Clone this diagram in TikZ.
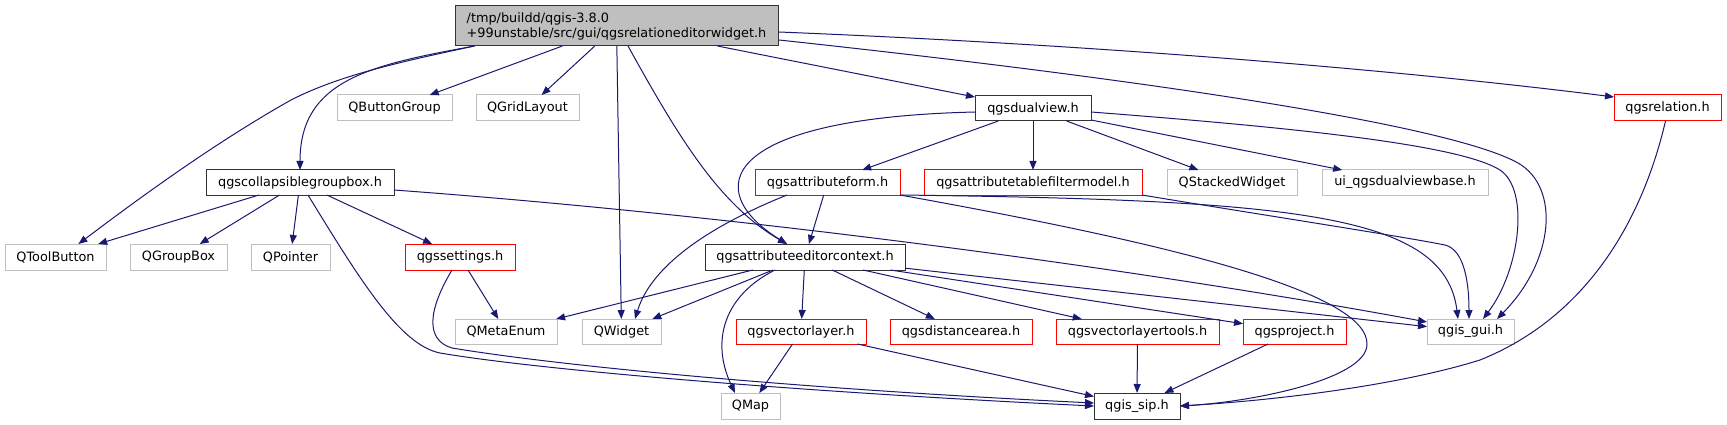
\documentclass[tikz,border=0pt]{standalone}
\usepackage{fontspec}
\setmainfont{DejaVu Sans}
\usetikzlibrary{arrows.meta,calc}
\definecolor{edgeblue}{HTML}{191970}
\definecolor{boxgray}{HTML}{BFBFBF}
\definecolor{boxred}{HTML}{FF0000}
\definecolor{rootfill}{HTML}{BFBFBF}
\tikzset{
  nodebase/.style={rectangle, inner sep=0pt, outer sep=0pt, line width=1pt, font=\fontsize{12.85}{15}\selectfont, text=black},
  gbox/.style={nodebase, draw=boxgray},
  rbox/.style={nodebase, draw=boxred},
  bbox/.style={nodebase, draw=black!80},
  rootbox/.style={nodebase, draw=black!80, fill=rootfill, align=left},
  edge/.style={draw=edgeblue, line width=1pt, -{Triangle[length=9pt,width=7pt]}, edgeblue}
}
\begin{document}
\begin{tikzpicture}[x=1pt,y=-1pt]
\useasboundingbox (0,0) rectangle (1727,425);
% nodes
\node[rootbox, minimum width=323, minimum height=40] (root) at (616.5,26) {/tmp/buildd/qgis-3.8.0\\+99unstable/src/gui/qgsrelationeditorwidget.h};
\node[gbox, minimum width=115, minimum height=26] (qbuttongroup) at (394.5,108) {QButtonGroup};
\node[gbox, minimum width=103, minimum height=26] (qgridlayout) at (527.5,108) {QGridLayout};
\node[bbox, minimum width=116, minimum height=25] (dualview) at (1033,108.5) {qgsdualview.h};
\node[rbox, minimum width=107, minimum height=26] (relation) at (1667.5,108) {qgsrelation.h};
\node[bbox, minimum width=188, minimum height=25] (collapsible) at (300,182.5) {qgscollapsiblegroupbox.h};
\node[rbox, minimum width=145, minimum height=25] (attrform) at (827.5,182.5) {qgsattributeform.h};
\node[rbox, minimum width=218, minimum height=25] (tablefilter) at (1033,182.5) {qgsattributetablefiltermodel.h};
\node[gbox, minimum width=130, minimum height=25] (qstacked) at (1232,182.5) {QStackedWidget};
\node[gbox, minimum width=166, minimum height=25] (uidual) at (1405,182.5) {ui\_qgsdualviewbase.h};
\node[gbox, minimum width=101, minimum height=26] (qtoolbutton) at (55.5,257) {QToolButton};
\node[gbox, minimum width=97, minimum height=26] (qgroupbox) at (178.5,257) {QGroupBox};
\node[gbox, minimum width=79, minimum height=26] (qpointer) at (290.5,257) {QPointer};
\node[rbox, minimum width=110, minimum height=26] (settings) at (460,257) {qgssettings.h};
\node[bbox, minimum width=200, minimum height=26] (editorctx) at (805,257) {qgsattributeeditorcontext.h};
\node[gbox, minimum width=102, minimum height=25] (qmetaenum) at (506,331.5) {QMetaEnum};
\node[gbox, minimum width=79, minimum height=25] (qwidget) at (621.5,331.5) {QWidget};
\node[rbox, minimum width=130, minimum height=25] (vlayer) at (801,331.5) {qgsvectorlayer.h};
\node[rbox, minimum width=142, minimum height=25] (distarea) at (961,331.5) {qgsdistancearea.h};
\node[rbox, minimum width=163, minimum height=25] (vltools) at (1137.5,331.5) {qgsvectorlayertools.h};
\node[rbox, minimum width=103, minimum height=25] (project) at (1294.5,331.5) {qgsproject.h};
\node[gbox, minimum width=87, minimum height=25] (qgisgui) at (1470.5,331.5) {qgis\_gui.h};
\node[gbox, minimum width=59, minimum height=26] (qmap) at (750.5,406) {QMap};
\node[bbox, minimum width=86, minimum height=26] (qgissip) at (1137,406) {qgis\_sip.h};
% straight edges
\draw[edge] (root) -- (qbuttongroup);
\draw[edge] (root) -- (qgridlayout);
\draw[edge] (root) -- (qwidget);
\draw[edge] (root) -- (dualview);
\draw[edge] (collapsible) -- (qtoolbutton);
\draw[edge] (collapsible) -- (qgroupbox);
\draw[edge] (collapsible) -- (qpointer);
\draw[edge] (collapsible) -- (settings);
\draw[edge] (settings) -- (qmetaenum);
\draw[edge] (dualview) -- (attrform);
\draw[edge] (dualview) -- (tablefilter);
\draw[edge] (dualview) -- (qstacked);
\draw[edge] (dualview) -- (uidual);
\draw[edge] (attrform) -- (editorctx);
\draw[edge] (editorctx) -- (qmetaenum);
\draw[edge] (editorctx) -- (qwidget);
\draw[edge] (editorctx) -- (vlayer);
\draw[edge] (editorctx) -- (distarea);
\draw[edge] (editorctx) -- (vltools);
\draw[edge] (editorctx) -- (project);
\draw[edge] (editorctx) -- (qgisgui);
\draw[edge] (vlayer) -- (qmap);
\draw[edge] (vlayer) -- (qgissip);
\draw[edge] (vltools) -- (qgissip);
\draw[edge] (project) -- (qgissip);
% curved edges
\draw[edge] ($(root.south west)+(19.5,0)$) .. controls (400,62) and (340,75) .. (291,100) .. controls (220,140) and (150,190) .. ($(qtoolbutton.north west)+(73.4,0)$);
\draw[edge] ($(root.south west)+(19.5,0)$) .. controls (370,65) and (300,80) .. (collapsible.north);
\draw[edge] ($(root.south west)+(173,0)$) .. controls (680,140) and (720,205) .. ($(editorctx.north west)+(82,0)$);
\draw[edge] ($(dualview.west)+(0,3.5)$) .. controls (720,118) and (700,190) .. ($(editorctx.north west)+(82,0)$);
\draw[edge] ($(root.south east)+(1,-6)$) .. controls (1150,80) and (1450,125) .. (1518,163) .. controls (1560,187) and (1555,260) .. ($(qgisgui.north west)+(70,0)$);
\draw[edge] ($(root.north east)+(1,26)$) .. controls (1100,45) and (1400,70) .. ($(relation.north west)+(0,2)$);
\draw[edge] ($(collapsible.south west)+(102,0)$) .. controls (360,280) and (400,345) .. (440,353) .. controls (540,370) and (800,392) .. (qgissip.west);
\draw[edge] ($(settings.south west)+(47,0)$) .. controls (428,310) and (425,340) .. (452,348) .. controls (560,366) and (800,389) .. ($(qgissip.west)+(0,-3)$);
\draw[edge] ($(editorctx.south west)+(70,0)$) .. controls (725,295) and (710,340) .. ($(qmap.north west)+(14,0)$);
\draw[edge] ($(attrform.south west)+(32,0)$) .. controls (700,230) and (650,270) .. ($(qwidget.north west)+(53,0)$);
\draw[edge] (attrform.south east) .. controls (1300,200) and (1445,215) .. ($(qgisgui.north west)+(31,0)$);
\draw[edge] (tablefilter.south east) .. controls (1250,213) and (1400,236) .. (1445,245) .. controls (1465,250) and (1469,285) .. ($(qgisgui.north west)+(42,0)$);
\draw[edge] ($(dualview.east)+(0,3.5)$) .. controls (1300,128) and (1460,145) .. (1500,170) .. controls (1530,190) and (1520,270) .. ($(qgisgui.north west)+(56,0)$);
\draw[edge] (attrform.south east) .. controls (1150,240) and (1370,290) .. (1367,345) .. controls (1365,380) and (1250,402) .. (qgissip.east);
\draw[edge] ($(relation.south)+(-2,0)$) .. controls (1640,230) and (1580,320) .. (1480,360) .. controls (1400,385) and (1280,400) .. (qgissip.east);
\draw[edge] ($(collapsible.south east)+(0,-5)$) .. controls (800,220) and (1200,280) .. ($(qgisgui.north west)+(0,3)$);
\end{tikzpicture}
\end{document}
